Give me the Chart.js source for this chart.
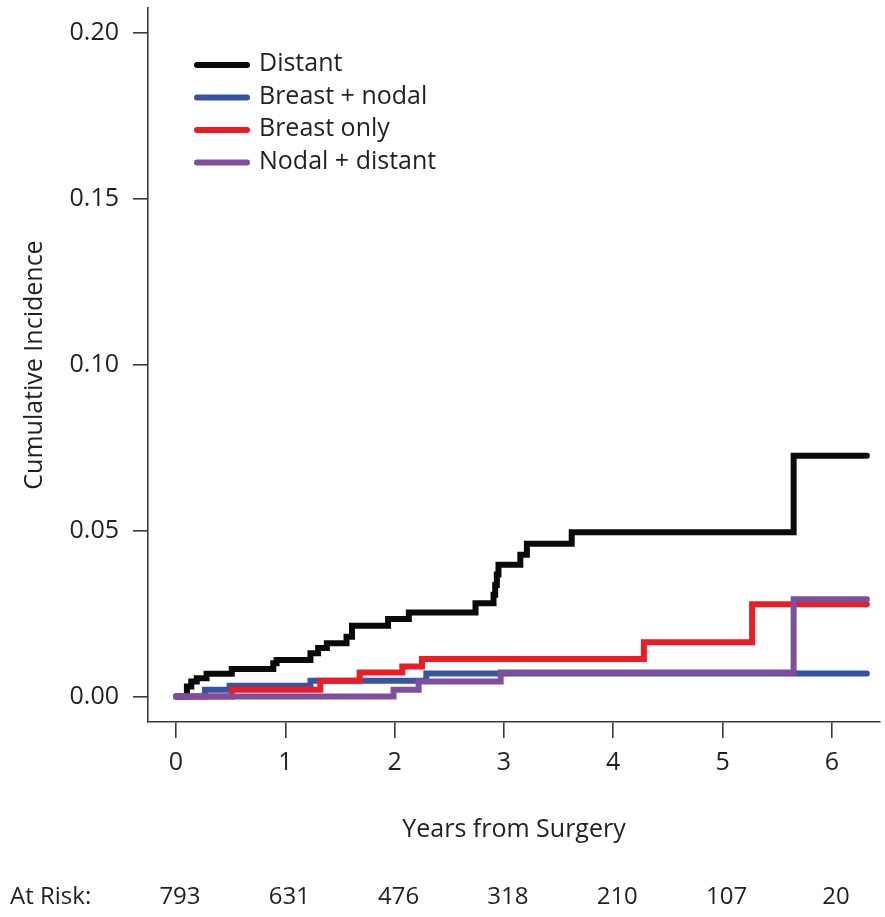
<!DOCTYPE html>
<html>
<head>
<meta charset="utf-8">
<script src="https://cdn.jsdelivr.net/npm/chart.js@4.4.1/dist/chart.umd.min.js"></script>
<style>
  html,body{margin:0;padding:0;background:#fff}
  #wrap{width:885px;height:917px}
</style>
</head>
<body>
<div id="wrap"><canvas id="c" width="885" height="917"></canvas></div>
<script>
// x axis ticks and numbers at risk under each year
const years  = [0,1,2,3,4,5,6];
const atRisk = [793,631,476,318,210,107,20];
const yTicks = [0,0.05,0.10,0.15,0.20];

// step curves: time of each jump (years) and the level after it
const distantT = [0,0.10,0.14,0.19,0.28,0.51,0.89,0.92,1.23,1.30,1.38,1.56,1.61,1.94,2.13,2.74,2.905,2.92,2.935,2.95,3.15,3.21,3.62,5.65,6.32];
const distantY = [0,0.003,0.0045,0.0055,0.0068,0.0083,0.010,0.011,0.013,0.0146,0.016,0.018,0.0213,0.0233,0.0253,0.0281,0.0306,0.0336,0.0367,0.0397,0.0427,0.046,0.0495,0.0725,0.0725];

const breastNodalT = [0,0.265,0.49,1.23,2.29,6.32];
const breastNodalY = [0,0.002,0.0032,0.0047,0.0069,0.0069];

const breastOnlyT = [0,0.51,1.32,1.68,2.07,2.25,4.28,5.27,6.32];
const breastOnlyY = [0,0.002,0.0047,0.0072,0.009,0.0113,0.0163,0.0278,0.0278];

const nodalDistantT = [0,1.99,2.22,2.97,5.65,6.32];
const nodalDistantY = [0,0.002,0.0045,0.0072,0.0293,0.0293];

const seriesNames  = ['Distant','Breast + nodal','Breast only','Nodal + distant'];
const seriesColors = ['#0a0a0a','#3953a4','#ed1c24','#7f4f9f'];

const FONT = '"Open Sans", "Noto Sans", sans-serif';
const INK = '#231f20';
const AXIS = '#3a3a3a';

const pts = (t,y)=> t.map((v,i)=>({x:v,y:y[i]}));

// legend inside the plot, top left
const inLegend = {
  id:'inLegend',
  afterDraw(chart){
    const {ctx, chartArea:a} = chart;
    const x0 = a.left + 49, y0 = a.top + 57, gap = 32.5;
    ctx.save();
    ctx.font = `25px ${FONT}`;
    ctx.textBaseline = 'middle';
    ctx.textAlign = 'left';
    seriesNames.forEach((name,i)=>{
      const y = y0 + i*gap;
      ctx.strokeStyle = seriesColors[i];
      ctx.lineWidth = 6;
      ctx.lineCap = 'round';
      ctx.beginPath(); ctx.moveTo(x0,y); ctx.lineTo(x0+50,y); ctx.stroke();
      ctx.fillStyle = INK;
      ctx.fillText(name, x0+62, y-1);
    });
    ctx.restore();
  }
};

// "At Risk:" row below the axis title
const atRiskRow = {
  id:'atRiskRow',
  afterDraw(chart){
    const {ctx, scales:{x}} = chart;
    const y = chart.height - 20;
    ctx.save();
    ctx.font = `24px ${FONT}`;
    ctx.fillStyle = INK;
    ctx.textBaseline = 'middle';
    ctx.textAlign = 'left';
    ctx.fillText('At Risk:', 10, y);
    ctx.textAlign = 'center';
    years.forEach((yr,i)=> ctx.fillText(String(atRisk[i]), x.getPixelForValue(yr)+4, y));
    ctx.restore();
  }
};

const mk = (label,t,y,i,order)=>({
  label, data: pts(t,y), stepped:'before',
  borderColor: seriesColors[i], backgroundColor: seriesColors[i],
  borderWidth:6, pointRadius:0, fill:false, order
});

new Chart(document.getElementById('c'), {
  type:'line',
  data:{
    datasets:[
      mk(seriesNames[0], distantT, distantY, 0, 3),
      mk(seriesNames[1], breastNodalT, breastNodalY, 1, 2),
      mk(seriesNames[2], breastOnlyT, breastOnlyY, 2, 1),
      mk(seriesNames[3], nodalDistantT, nodalDistantY, 3, 0)
    ]
  },
  options:{
    responsive:false, animation:false, devicePixelRatio:1,
    layout:{padding:{top:8,right:5,left:0,bottom:0}},
    plugins:{legend:{display:false}, tooltip:{enabled:false}},
    elements:{line:{borderCapStyle:'round', borderJoinStyle:'miter', tension:0}},
    scales:{
      x:{
        type:'linear', min:-0.256, max:6.44,
        afterBuildTicks: s=>{ s.ticks = years.map(v=>({value:v})); },
        afterFit: s=>{ s.height = 195; s.paddingLeft = 0; s.paddingRight = 0; },
        ticks:{font:{family:FONT,size:25}, color:INK, padding:10, maxRotation:0, autoSkip:false, callback:v=>String(v)},
        grid:{drawOnChartArea:false, tickLength:16, color:AXIS, lineWidth:1.6},
        border:{color:AXIS, width:1.6},
        title:{display:true, text:'Years from Surgery', font:{family:FONT,size:25}, color:INK, padding:{top:0,bottom:72}}
      },
      y:{
        type:'linear', min:-0.0077, max:0.2074,
        afterBuildTicks: s=>{ s.ticks = yTicks.map(v=>({value:v})); },
        afterFit: s=>{ s.width = 148; s.paddingTop = 0; s.paddingBottom = 0; },
        ticks:{font:{family:FONT,size:25}, color:INK, padding:14, callback:v=>v.toFixed(2)},
        grid:{drawOnChartArea:false, tickLength:15, color:AXIS, lineWidth:1.6},
        border:{color:AXIS, width:1.6},
        title:{display:true, text:'Cumulative Incidence', font:{family:FONT,size:25}, color:INK, padding:{top:20,bottom:0}}
      }
    }
  },
  plugins:[inLegend, atRiskRow]
});
</script>
</body>
</html>
